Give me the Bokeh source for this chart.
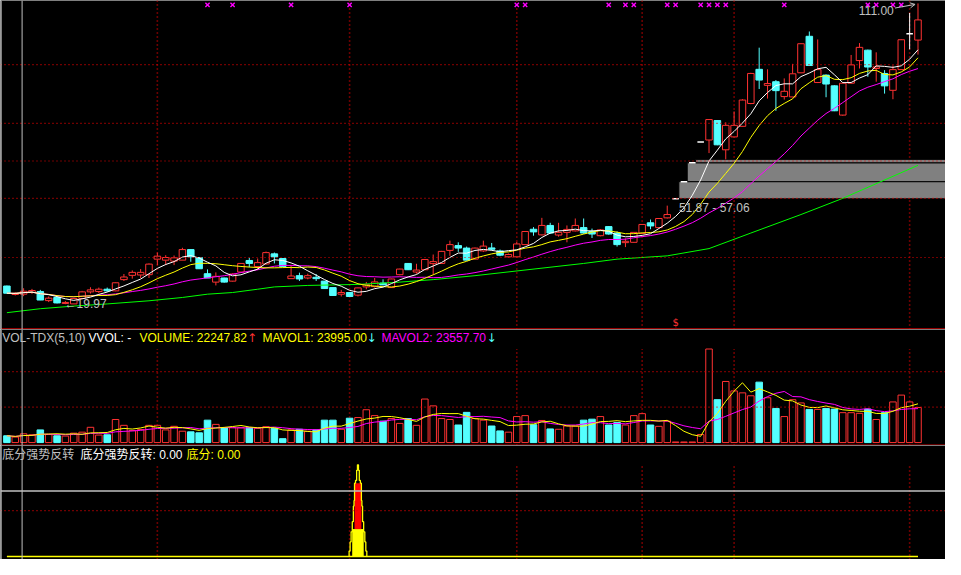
import numpy as np
import pandas as pd
from bokeh.plotting import figure
from bokeh.layouts import column
from bokeh.models import Range1d, Span, Label, Arrow, OpenHead
from bokeh.core.properties import value
from bokeh.embed import file_html
from bokeh.resources import INLINE

# ---------------- data ----------------
opens = [25.47, 22.9, 23.0, 23.5, 23.79, 21.05, 22.0, 20.2, 20.06, 21.7,
         23.7, 23.8, 24.5, 24.0, 27.4, 28.7, 28.8, 28.9, 33.6, 33.3,
         33.0, 33.3, 36.5, 34.1, 29.2, 26.65, 27.9, 26.95, 29.7, 33.2,
         31.35, 32.13, 35.2, 33.8, 27.7, 28.6, 27.9, 28.1, 26.95, 25.0,
         23.0, 23.5, 22.7, 25.2, 25.3, 26.35, 25.0, 28.9, 32.3, 29.7,
         30.4, 32.25, 32.3, 36.25, 37.7, 36.95, 33.6, 36.1, 37.0, 36.1,
         34.3, 34.3, 38.0, 42.65, 40.95, 43.8, 40.9, 41.7, 42.15, 43.15,
         41.97, 40.7, 43.45, 41.5, 38.6, 38.7, 41.4, 44.6, 43.15, 46.1,
         51.87, 57.06, 62.77, 69.05, 69.66, 75.55, 66.7, 70.6, 73.8, 80.7,
         91.05, 86.2, 87.3, 82.8, 82.7, 90.0, 101.05, 87.05, 89.3, 86.05,
         77.2, 86.85, 93.7, 96.85, 91.3, 89.8, 84.7, 90.96, 101.8, 99.9]
highs = [25.6, 23.6, 24.8, 24.6, 24.3, 22.3, 22.3, 20.9, 21.9, 24.0,
         25.1, 25.0, 25.0, 26.6, 29.1, 30.2, 30.6, 32.3, 35.6, 34.8,
         34.7, 37.05, 36.5, 34.1, 30.5, 29.6, 28.0, 29.3, 32.4, 34.0,
         33.8, 35.9, 35.6, 33.9, 31.8, 29.5, 29.2, 29.1, 27.0, 25.0,
         24.3, 23.6, 25.0, 26.7, 27.9, 27.5, 27.7, 30.7, 32.4, 32.2,
         33.6, 35.0, 36.1, 39.2, 38.7, 37.4, 37.1, 39.2, 38.5, 36.5,
         35.3, 38.8, 42.1, 43.3, 46.1, 44.6, 44.6, 43.8, 45.9, 45.9,
         42.85, 42.7, 43.6, 42.0, 39.9, 41.8, 44.2, 45.6, 46.0, 49.8,
         51.87, 57.06, 62.77, 69.05, 75.9, 75.6, 75.0, 78.3, 82.0, 90.0,
         97.6, 91.05, 87.8, 88.3, 92.7, 99.0, 102.5, 100.1, 89.5, 86.2,
         87.0, 95.4, 99.0, 97.0, 96.2, 90.8, 92.2, 100.2, 108.1, 111.0]
lows = [23.2, 22.6, 22.4, 23.1, 21.2, 20.6, 20.2, 19.97, 20.0, 21.5,
        23.2, 23.3, 23.7, 23.9, 27.0, 27.7, 27.9, 27.9, 31.8, 31.8,
        31.8, 33.3, 32.8, 30.7, 27.9, 25.65, 26.5, 26.8, 29.5, 31.15,
        30.35, 32.0, 32.3, 31.3, 27.6, 27.0, 27.5, 27.0, 24.6, 22.5,
        22.3, 22.2, 22.3, 24.5, 25.0, 25.8, 24.9, 28.7, 30.3, 29.2,
        30.3, 28.9, 32.2, 34.6, 35.8, 33.2, 33.5, 35.8, 36.3, 34.5,
        34.1, 34.2, 37.9, 40.7, 40.8, 41.3, 40.4, 38.7, 42.0, 41.3,
        40.0, 40.5, 41.0, 37.4, 37.25, 38.6, 41.3, 42.65, 43.0, 45.9,
        51.87, 57.06, 62.77, 69.05, 65.7, 68.1, 63.8, 70.5, 73.7, 80.5,
        85.1, 82.2, 78.5, 81.9, 82.6, 89.9, 92.1, 86.9, 82.6, 78.4,
        77.0, 86.7, 91.3, 88.8, 87.3, 83.7, 82.0, 90.9, 97.1, 95.5]
closes = [23.29, 23.2, 23.9, 24.1, 21.23, 21.8, 20.35, 20.5, 21.7, 23.7,
          24.3, 24.5, 24.0, 26.45, 28.2, 29.6, 29.6, 32.1, 34.5, 34.1,
          34.0, 36.5, 34.3, 30.7, 27.9, 28.4, 26.65, 29.1, 32.3, 32.3,
          32.55, 35.58, 34.3, 31.35, 28.5, 27.6, 28.6, 27.7, 24.7, 22.6,
          23.5, 22.3, 24.9, 25.95, 26.7, 25.8, 27.6, 30.6, 30.4, 30.3,
          33.5, 32.85, 35.95, 38.0, 36.95, 33.3, 36.95, 37.55, 36.6, 34.8,
          35.0, 38.2, 41.97, 41.85, 43.8, 41.5, 41.7, 42.6, 43.8, 41.5,
          41.2, 42.45, 41.2, 38.0, 39.0, 41.7, 44.1, 43.65, 45.9, 47.1,
          51.87, 57.06, 62.77, 69.05, 75.85, 68.2, 74.1, 74.1, 81.75, 89.8,
          87.8, 86.75, 84.6, 84.4, 89.7, 98.8, 92.2, 90.96, 86.6, 78.5,
          86.85, 92.4, 97.7, 91.75, 91.8, 86.05, 90.96, 100.0, 101.8, 106.0]
volumes = [17290, 14000, 22247.82, 19760, 32110, 20500, 17290, 16500, 23900, 26400,
           38700, 19000, 19760, 58500, 43700, 30400, 32900, 43700, 43700, 32100,
           41200, 28800, 27200, 24700, 56800, 46100, 37900, 37900, 37900, 37900,
           36200, 40300, 36200, 9900, 32100, 33700, 28800, 32100, 56800, 56800,
           33700, 61750, 63400, 83200, 68300, 54300, 60900, 48600, 60900, 43700,
           110300, 93000, 60900, 58500, 44500, 76600, 61000, 56800, 42000, 29600,
           26400, 65900, 68300, 45300, 56000, 34600, 33700, 42000, 42000, 56800,
           59300, 65900, 44500, 51000, 44500, 68300, 73300, 44500, 41200, 54300,
           1500, 1500, 1500, 20500, 237100, 108700, 154800, 130900, 126000, 118600,
           153100, 113600, 86500, 65900, 108700, 100500, 84000, 84000, 86500, 84800,
           75800, 75800, 74100, 84800, 58500, 75800, 103000, 120300, 103000, 88900]

# long moving average (green), read at sample bars
ma60_idx = [0, 4, 8, 12, 17, 21, 24, 27, 30, 32, 36, 42, 47, 51, 56, 69, 73, 79, 84, 89, 95, 100, 109]
ma60_val = [17.4, 18.6, 19.4, 20.05, 21.0, 22.0, 23.0, 23.5, 24.5, 25.2, 25.65, 25.95, 26.65, 27.4,
            28.6, 32.3, 33.6, 34.6, 36.8, 41.5, 47.1, 52.0, 62.0]

# unfilled gap zones (grey blocks)
gap_start = [80, 81, 82]
gap_low = [51.87, 57.06, 62.77]
gap_high = [57.06, 62.77, 63.80]

# signal crosses along the top
signal_idx = [24, 27, 34, 41, 61, 62, 72, 74, 75, 79, 80, 83, 84, 85, 86, 93, 103, 104, 106, 107]

# grid
month_idx = [18, 41, 61, 76, 87, 108]
price_grid = [92.5, 74.7, 63.3, 52.0, 34.1]
vol_grid = [90000, 180000]
ind_grid = [50]

# bottom indicator (底分强势反转)
score_line = [0.0] * len(closes)
spike_idx = 42
spike_red = (30, 80)
spike_yellow = (0, 30)
stair_top = [100, 94, 83, 80, 61, 55, 38, 27, 16, 6]
stair_hw = [0.06, 0.16, 0.29, 0.41, 0.47, 0.55, 0.68, 0.82, 0.94, 1.06]

cursor_x = 1.82
cursor_ind_y = 71.6

# ---------------- styling ----------------
RED = "#ff3232"
CYAN = "#54ffff"
GRID = "#e00000"
VGRID = "#d80000"
GRAY = "#c0c0c0"
SEP = "#c80000"
W = 945
H_MAIN, H_VOL, H_IND = 329, 116, 114
X0, X1 = -0.765, 112.29
P_BOT, P_TOP = 12.31, 111.88
V_BOT, V_TOP = -7410, 286520
I_BOT, I_TOP = -3.16, 121.05
BW = 0.39
FONT = "Liberation Sans, Noto Sans CJK SC"

n = len(closes)
idx = np.arange(n)
o = np.array(opens); c = np.array(closes); h = np.array(highs); l = np.array(lows)
v = np.array(volumes, dtype=float)
up = c > o
dn = c < o
fl = c == o

xr = Range1d(X0, X1)


def mk(hh, y0, y1):
    p = figure(width=W, height=hh, x_range=xr, y_range=Range1d(y0, y1),
               output_backend="svg", toolbar_location=None,
               x_axis_type=None, y_axis_type=None,
               background_fill_color="black", border_fill_color="black",
               min_border=0)
    p.min_border_left = p.min_border_right = p.min_border_top = p.min_border_bottom = 0
    p.outline_line_color = None
    p.grid.visible = False
    return p


def add_grid(p, ys, y_from, y_to):
    for y in ys:
        p.add_layout(Span(location=y, dimension="width", line_color=GRID, line_dash="1 3", line_width=1.2))
    k = len(month_idx)
    p.multi_line(xs=[[m, m] for m in month_idx], ys=[[y_from, y_to] for _ in range(k)],
                 line_color=VGRID, line_dash="1 3", line_width=1.6)


# ---------------- main price panel ----------------
main = mk(H_MAIN, P_BOT, P_TOP)
add_grid(main, price_grid, P_BOT, P_TOP)

main.quad(left=[g + BW for g in gap_start], right=X1, bottom=gap_low, top=gap_high,
          fill_color="#808080", line_color="black", line_width=1)

# down candles (filled cyan)
main.segment(x0=idx[dn], y0=h[dn], x1=idx[dn], y1=l[dn], line_color=CYAN, line_width=1)
main.quad(left=idx[dn] - BW, right=idx[dn] + BW, bottom=c[dn], top=o[dn],
          fill_color=CYAN, line_color=CYAN, line_width=1)
# up candles (hollow red)
main.segment(x0=idx[up], y0=h[up], x1=idx[up], y1=c[up], line_color=RED, line_width=1)
main.segment(x0=idx[up], y0=o[up], x1=idx[up], y1=l[up], line_color=RED, line_width=1)
main.quad(left=idx[up] - BW, right=idx[up] + BW, bottom=o[up], top=c[up],
          fill_color="black", line_color=RED, line_width=1)
# flat candles (white)
main.segment(x0=idx[fl], y0=h[fl], x1=idx[fl], y1=l[fl], line_color="white", line_width=1)
main.segment(x0=idx[fl] - BW, y0=c[fl], x1=idx[fl] + BW, y1=c[fl], line_color="white", line_width=1.5)

cs = pd.Series(c)
main.line(ma60_idx, ma60_val, line_color="#00ff00", line_width=1)
main.line(idx, cs.rolling(20, min_periods=1).mean(), line_color="#ff00ff", line_width=1)
main.line(idx, cs.rolling(10, min_periods=1).mean(), line_color="#ffff00", line_width=1)
main.line(idx, cs.rolling(5, min_periods=1).mean(), line_color="white", line_width=1)

main.scatter(x=signal_idx, y=[P_TOP - 1.3] * len(signal_idx), marker="x", size=6,
             line_color="#ff00ff", line_width=1.4)

hi_i = int(np.argmax(h)); lo_i = int(np.argmin(l))
main.add_layout(Label(x=hi_i - 2.9, y=h[hi_i] - 2.2, text=f"{h[hi_i]:.2f}", text_align="right",
                      text_baseline="middle", text_color=GRAY, text_font_size="12px", text_font=FONT))
main.add_layout(Arrow(end=OpenHead(size=5, line_color=GRAY, line_width=1),
                      x_start=hi_i - 2.75, y_start=h[hi_i] - 1.4, x_end=hi_i - 0.35, y_end=h[hi_i] - 0.3,
                      line_color=GRAY, line_width=1))
main.add_layout(Label(x=lo_i - 0.1, y=l[lo_i], text=f"\u2190{l[lo_i]:.2f}", text_align="left",
                      text_baseline="middle", text_color=GRAY, text_font_size="12px", text_font=FONT))
main.add_layout(Label(x=gap_start[0] + 0.4, y=gap_low[0] - 2.75,
                      text=f"{gap_low[0]:.2f} - {gap_high[0]:.2f}", text_align="left",
                      text_baseline="middle", text_color=GRAY, text_font_size="12px", text_font=FONT))
main.text(x=[gap_start[0]], y=[P_BOT + 2.1], text=["$"], text_color=RED, text_font_size="10px",
          text_align="center", text_baseline="middle", text_font=value("DejaVu Sans"))

main.add_layout(Span(location=P_BOT + 0.15, dimension="width", line_color=SEP, line_width=1.5))

# ---------------- volume panel ----------------
vol = mk(H_VOL, V_BOT, V_TOP)
add_grid(vol, vol_grid, V_BOT, float(v.max()))
vup = c >= o
vdn = ~vup
vol.quad(left=idx[vdn] - BW, right=idx[vdn] + BW, bottom=0, top=v[vdn],
         fill_color=CYAN, line_color=CYAN, line_width=1)
vol.quad(left=idx[vup] - BW, right=idx[vup] + BW, bottom=0, top=v[vup],
         fill_color="black", line_color=RED, line_width=1)
vs = pd.Series(v)
vol.line(idx, vs.rolling(10, min_periods=1).mean(), line_color="#ff00ff", line_width=1)
vol.line(idx, vs.rolling(5, min_periods=1).mean(), line_color="#ffff00", line_width=1)
vol.add_layout(Span(location=V_BOT + 500, dimension="width", line_color=SEP, line_width=1.5))

ty = H_VOL - 8.5
for tx, txt, col in [(1.7, "VOL-TDX(5,10)", GRAY), (88, "VVOL: -", "white"),
                     (139, f"VOLUME: {volumes[2]:.2f}", "#ffff00"), (246.5, "\u2191", RED),
                     (262, "MAVOL1: 23995.00", "#ffff00"), (366, "\u2193", CYAN),
                     (381, "MAVOL2: 23557.70", "#ff00ff"), (486, "\u2193", CYAN)]:
    vol.add_layout(Label(x=tx, y=ty, x_units="screen", y_units="screen", text=txt,
                         text_color=col, text_font_size="12px", text_baseline="middle",
                         text_font=FONT if txt not in ("\u2191", "\u2193") else "DejaVu Sans"))

# ---------------- indicator panel ----------------
ind = mk(H_IND, I_BOT, I_TOP)
add_grid(ind, ind_grid, I_BOT, float(max(stair_top)))
ind.add_layout(Span(location=cursor_ind_y, dimension="width", line_color=GRAY, line_width=1.5))
ind.line(idx, score_line, line_color="#ffff00", line_width=1.5)
hw_y = stair_hw[-1] * 0.65
ind.quad(left=[spike_idx - hw_y], right=[spike_idx + hw_y], bottom=[spike_yellow[0]], top=[spike_yellow[1]],
         fill_color="#ffff00", line_color=None)
ind.quad(left=[spike_idx - stair_hw[3]], right=[spike_idx + stair_hw[3]], bottom=[spike_red[0]], top=[spike_red[1]],
         fill_color="#ff0000", line_color=None)
lx, ly = [], []
bottoms = stair_top[1:] + [0]
for k in range(len(stair_top) - 1, -1, -1):
    lx += [spike_idx - stair_hw[k], spike_idx - stair_hw[k]]
    ly += [bottoms[k], stair_top[k]]
rx, ry = [], []
for k in range(len(stair_top)):
    rx += [spike_idx + stair_hw[k], spike_idx + stair_hw[k]]
    ry += [stair_top[k], bottoms[k]]
ind.line(lx + rx, ly + ry, line_color="#ffff00", line_width=1.3)

ty2 = H_IND - 9.4
for tx, txt, col in [(1.7, "底分强势反转", GRAY), (80, "底分强势反转: 0.00", "white"),
                     (186, "底分: 0.00", "#ffff00")]:
    ind.add_layout(Label(x=tx, y=ty2, x_units="screen", y_units="screen", text=txt,
                         text_color=col, text_font_size="12px", text_baseline="middle", text_font=FONT))

for p in (main, vol, ind):
    p.add_layout(Span(location=cursor_x, dimension="height", line_color=GRAY, line_width=1))
    p.add_layout(Span(location=X0 + 0.05, dimension="height", line_color=GRAY, line_width=1.5))

layout = column(main, vol, ind, spacing=0)
open("out.html", "w").write(file_html(layout, INLINE))
